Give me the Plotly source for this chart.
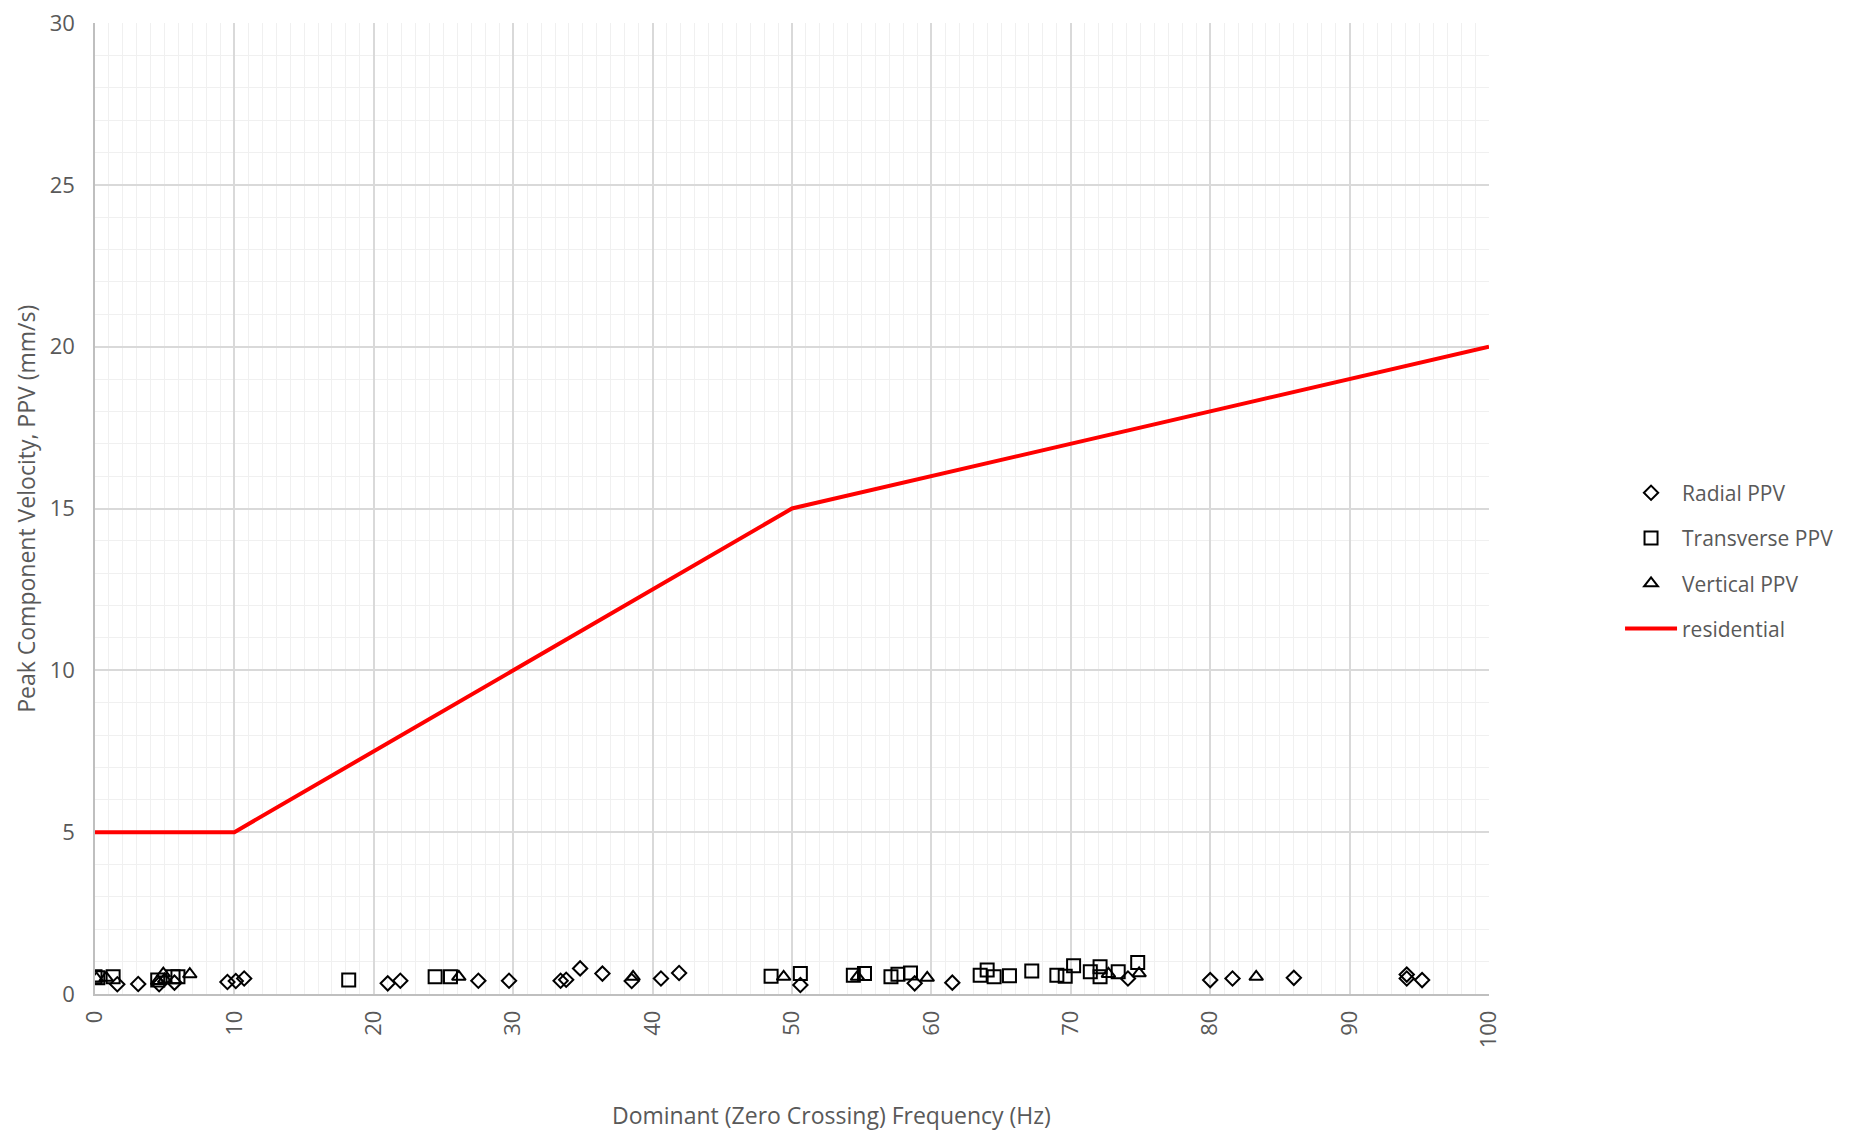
import plotly.graph_objects as go

# Data
radial_x = [1.6, 3.1, 4.6, 5.7, 9.5, 10.1, 10.7, 21.0, 21.9, 27.5, 29.7, 33.4, 33.8, 34.8,
            36.4, 38.5, 40.6, 41.9, 50.6, 58.8, 61.5, 74.1, 80.0, 81.6, 86.0, 94.1, 94.1, 95.2]
radial_y = [0.30, 0.31, 0.30, 0.35, 0.37, 0.40, 0.48, 0.33, 0.41, 0.41, 0.41, 0.41, 0.44, 0.79,
            0.63, 0.40, 0.48, 0.65, 0.28, 0.33, 0.35, 0.48, 0.43, 0.48, 0.50, 0.60, 0.48, 0.43]

transverse_x = [0.0, 0.2, 1.3, 4.5, 5.6, 5.95, 18.2, 24.4, 25.5, 48.5, 50.6, 54.4, 55.2, 57.1,
                57.6, 58.5, 63.5, 64.0, 64.5, 65.6, 67.2, 69.0, 69.6, 70.2, 71.4, 72.1, 72.1,
                73.4, 74.8]
transverse_y = [0.53, 0.50, 0.53, 0.43, 0.53, 0.53, 0.43, 0.53, 0.53, 0.55, 0.63, 0.58, 0.63, 0.53,
                0.61, 0.65, 0.58, 0.74, 0.53, 0.56, 0.71, 0.58, 0.55, 0.87, 0.69, 0.84, 0.53,
                0.69, 0.97]

vertical_x = [0.1, 0.8, 4.5, 4.9, 5.0, 6.8, 26.1, 38.6, 49.4, 54.7, 59.7, 72.7, 74.9, 83.3]
vertical_y = [0.48, 0.50, 0.40, 0.63, 0.45, 0.61, 0.53, 0.53, 0.53, 0.53, 0.50, 0.62, 0.64, 0.53]

residential_x = [0, 10, 50, 100]
residential_y = [5, 5, 15, 20]

FONT = "Open Sans"
GRAY = "#595959"

fig = go.Figure()

fig.add_trace(go.Scatter(x=radial_x, y=radial_y, mode="markers", name="Radial PPV",
                         legendgroup="a",
                         marker=dict(symbol="diamond-open", size=11, color="black",
                                     line=dict(width=2, color="black"))))
fig.add_trace(go.Scatter(x=transverse_x, y=transverse_y, mode="markers", name="Transverse PPV",
                         legendgroup="b",
                         marker=dict(symbol="square-open", size=13, color="black",
                                     line=dict(width=2, color="black"))))
fig.add_trace(go.Scatter(x=vertical_x, y=vertical_y, mode="markers", name="Vertical PPV",
                         legendgroup="c",
                         marker=dict(symbol="triangle-up-open", size=12, color="black",
                                     line=dict(width=2, color="black"))))
fig.add_trace(go.Scatter(x=residential_x, y=residential_y, mode="lines", name="residential",
                         legendgroup="d",
                         line=dict(color="#FF0000", width=4)))

# page body has an 8px margin, so the figure is sized/offset to compensate
fig.update_layout(
    width=1843, height=1127,
    margin=dict(l=87, r=358, t=15, b=141),
    paper_bgcolor="white", plot_bgcolor="white",
    font=dict(family=FONT, size=22, color=GRAY),
    showlegend=True,
    legend=dict(x=1.094, xanchor="left", y=0.537, yanchor="top",
                font=dict(family=FONT, size=21, color=GRAY),
                itemwidth=52,
                tracegroupgap=15, bgcolor="rgba(0,0,0,0)"),
    xaxis=dict(range=[0, 100], dtick=10, tickangle=-90, automargin=False,
               ticklabeloverflow="allow",
               showgrid=True, gridcolor="#D9D9D9", gridwidth=1.5,
               minor=dict(dtick=1, showgrid=True, gridcolor="#F0F0F0", gridwidth=1),
               showline=True, linecolor="#BFBFBF", linewidth=1.5,
               zeroline=False, ticks="", ticklabelstandoff=6,
               tickfont=dict(family=FONT, size=22, color=GRAY)),
    yaxis=dict(range=[0, 30], dtick=5, automargin=False,
               ticklabeloverflow="allow",
               showgrid=True, gridcolor="#D9D9D9", gridwidth=1.5,
               minor=dict(dtick=1, showgrid=True, gridcolor="#F0F0F0", gridwidth=1),
               showline=True, linecolor="#BFBFBF", linewidth=1.5,
               zeroline=False, ticks="", ticklabelstandoff=14,
               tickfont=dict(family=FONT, size=22, color=GRAY)),
    annotations=[
        dict(text="Dominant (Zero Crossing) Frequency (Hz)", xref="paper", yref="paper",
             x=0.528, y=-0.125, xanchor="center", yanchor="middle", showarrow=False,
             font=dict(family=FONT, size=23, color=GRAY)),
        dict(text="Peak Component Velocity, PPV (mm/s)", xref="paper", yref="paper",
             x=-0.05, xanchor="center", y=0.5, yanchor="middle", textangle=-90,
             showarrow=False, font=dict(family=FONT, size=23, color=GRAY)),
    ],
)

fig.write_html("out.html")
